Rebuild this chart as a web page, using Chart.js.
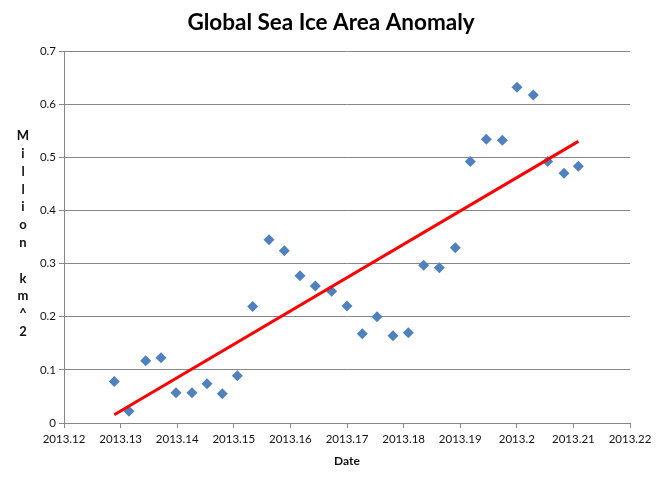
<!DOCTYPE html>
<html>
<head>
<meta charset="utf-8">
<script src="https://cdn.jsdelivr.net/npm/chart.js@4/dist/chart.umd.min.js"></script>
<style>
    html, body { margin: 0; padding: 0; background: #fff; }
    #chart { display: block; }
</style>
</head>
<body>
<canvas id="chart" width="662" height="480"></canvas>
<script>
"use strict";

// Chart data
const dates = [
    2013.12888, 2013.13148, 2013.13443, 2013.13714, 2013.13979, 2013.14261, 2013.14527, 2013.14797,
    2013.15062, 2013.15334, 2013.15622, 2013.15892, 2013.16170, 2013.16440, 2013.16730, 2013.17000,
    2013.17270, 2013.17530, 2013.17813, 2013.18083, 2013.18355, 2013.18631, 2013.18914, 2013.19178,
    2013.19461, 2013.19744, 2013.20004, 2013.20292, 2013.20546, 2013.20834, 2013.21087
];
const anomaly = [
    0.078, 0.022, 0.117, 0.123, 0.057, 0.057, 0.074, 0.055,
    0.089, 0.219, 0.345, 0.324, 0.277, 0.258, 0.248, 0.220,
    0.168, 0.200, 0.164, 0.170, 0.297, 0.292, 0.330, 0.492,
    0.534, 0.532, 0.632, 0.617, 0.492, 0.470, 0.483
];

// Linear trend end points
const trendDates = [2013.12888, 2013.21087];
const trendValues = [0.0155, 0.530];

// Tick labels
const xTicks = [2013.12, 2013.13, 2013.14, 2013.15, 2013.16, 2013.17, 2013.18, 2013.19, 2013.20, 2013.21, 2013.22];
const yTicks = [0, 0.1, 0.2, 0.3, 0.4, 0.5, 0.6, 0.7];

// Titles
const chartTitle = 'Global Sea Ice Area Anomaly';
const yTitleLines = ['M', 'i', 'l', 'l', 'i', 'o', 'n', '', 'k', 'm', '^', '2'];

// Define colors
var markerColor = '#4f81bd';
var trendColor = '#ff0000';
var gridColor = '#868686';
var textColor = '#111';

// Define fonts
var fontFamily = 'Lato, "Open Sans", sans-serif';

// Draws the chart title centred on the canvas and the stacked y axis title
const titlesPlugin = {
    id: 'titles',
    afterDraw: function (chart) {
        var ctx = chart.ctx;
        ctx.save();
        ctx.fillStyle = '#000';
        ctx.textAlign = 'center';
        ctx.textBaseline = 'middle';
        ctx.font = 'bold 22.5px ' + fontFamily;
        ctx.fillText(chartTitle, chart.width / 2, 23);

        ctx.fillStyle = textColor;
        ctx.font = 'bold 13px ' + fontFamily;
        for (var i = 0; i < yTitleLines.length; i++) {
            ctx.fillText(yTitleLines[i], 23, 136 + i * 17.8);
        }
        ctx.restore();
    }
};

const data = {
    datasets: [
        {
            label: 'Anomaly',
            data: dates.map((d, i) => ({ x: d, y: anomaly[i] })),
            backgroundColor: markerColor,
            borderColor: markerColor,
            pointStyle: 'rectRot',
            pointRadius: 5.5,
            pointBorderWidth: 0,
            showLine: false,
            order: 1
        },
        {
            label: 'Trend',
            data: trendDates.map((d, i) => ({ x: d, y: trendValues[i] })),
            borderColor: trendColor,
            backgroundColor: trendColor,
            borderWidth: 3,
            pointRadius: 0,
            showLine: true,
            order: 0
        }
    ]
};

const config = {
    type: 'scatter',
    data: data,
    plugins: [titlesPlugin],
    options: {
        responsive: false,
        animation: false,
        layout: {
            padding: { left: 0, right: 32, top: 51, bottom: 0 }
        },
        plugins: {
            legend: { display: false },
            tooltip: { enabled: false },
            title: { display: false }
        },
        scales: {
            x: {
                type: 'linear',
                min: 2013.12,
                max: 2013.22,
                afterBuildTicks: function (scale) {
                    scale.ticks = xTicks.map(v => ({ value: v }));
                },
                afterFit: function (scale) {
                    scale.height = 57;
                },
                ticks: {
                    color: textColor,
                    font: { family: fontFamily, size: 11.5 },
                    padding: 4,
                    maxRotation: 0,
                    autoSkip: false,
                    callback: function (value) {
                        return String(Number(value.toFixed(2)));
                    }
                },
                grid: {
                    drawOnChartArea: false,
                    drawTicks: true,
                    tickLength: 5,
                    color: gridColor
                },
                border: { color: gridColor, width: 1 },
                title: {
                    display: true,
                    text: 'Date',
                    color: textColor,
                    font: { family: fontFamily, size: 12, weight: 'bold' },
                    padding: { top: 0, bottom: 12 }
                }
            },
            y: {
                type: 'linear',
                min: 0,
                max: 0.7,
                afterBuildTicks: function (scale) {
                    scale.ticks = yTicks.map(v => ({ value: v }));
                },
                afterFit: function (scale) {
                    scale.width = 64;
                },
                ticks: {
                    color: textColor,
                    font: { family: fontFamily, size: 11.5 },
                    padding: 3,
                    callback: function (value) {
                        return String(Number(value.toFixed(1)));
                    }
                },
                grid: {
                    color: gridColor,
                    lineWidth: 1,
                    drawTicks: true,
                    tickLength: 5
                },
                border: { color: gridColor, width: 1 }
            }
        }
    }
};

// Init ChartJS
var myChart = new Chart(document.getElementById('chart'), config);
</script>
</body>
</html>
